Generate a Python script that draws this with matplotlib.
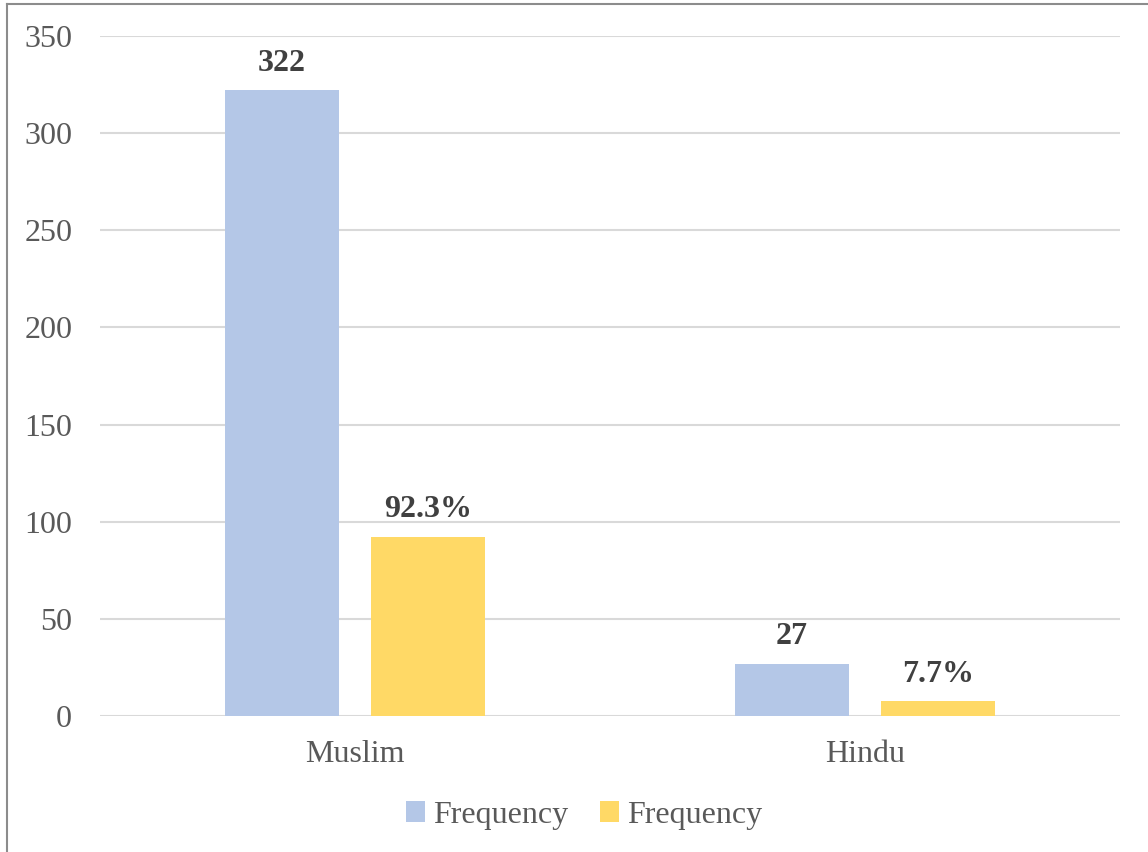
import matplotlib.pyplot as plt
from matplotlib.lines import Line2D
import numpy as np

religions = ['Muslim', 'Hindu']
frequency = [322, 27]
percent = [92.3, 7.7]
yticks = [0, 50, 100, 150, 200, 250, 300, 350]

blue = '#b4c7e7'
yellow = '#ffd966'

plt.rcParams['font.family'] = ['Liberation Serif', 'DejaVu Serif']

fig = plt.figure(figsize=(11.48, 8.52), dpi=100)
ax = fig.add_axes([0.0871, 0.1596, 0.8885, 0.7981])

x = np.arange(len(religions))
width = 0.225
offset = 0.143
b1 = ax.bar(x - offset, frequency, width, color=blue, label='Frequency', zorder=3)
b2 = ax.bar(x + offset, percent, width, color=yellow, label='Frequency', zorder=3)

for bar, v in zip(b1, frequency):
    ax.annotate(f'{v}', (bar.get_x() + bar.get_width() / 2, v),
                xytext=(0, 9), textcoords='offset points', ha='center', va='bottom',
                fontsize=23, fontweight='bold', color='#404040')
for bar, v in zip(b2, percent):
    ax.annotate(f'{v}%', (bar.get_x() + bar.get_width() / 2, v),
                xytext=(0, 9), textcoords='offset points', ha='center', va='bottom',
                fontsize=23, fontweight='bold', color='#404040')

ax.set_xlim(-0.5, 1.5)
ax.set_ylim(0, 350)
ax.set_yticks(yticks)
ax.set_xticks(x)
ax.set_xticklabels(religions)
ax.tick_params(axis='y', length=0, pad=20, labelsize=23, labelcolor='#595959')
ax.tick_params(axis='x', length=0, pad=17, labelsize=23, labelcolor='#595959')
ax.grid(axis='y', color='#d9d9d9', linewidth=1.5, zorder=0)
for s in ax.spines.values():
    s.set_visible(False)

ax.legend(loc='center', bbox_to_anchor=(0.4745, -0.146), ncol=2, frameon=False,
          fontsize=23, labelcolor='#595959', handlelength=0.6, handleheight=0.6,
          handletextpad=0.25, columnspacing=1.0)

# outer chart frame (left and top edges)
fig.add_artist(Line2D([7 / 1148, 7 / 1148], [0, 1 - 4 / 852], transform=fig.transFigure,
                      color='#8c8c8c', linewidth=1.5))
fig.add_artist(Line2D([7 / 1148, 1], [1 - 4 / 852, 1 - 4 / 852], transform=fig.transFigure,
                      color='#8c8c8c', linewidth=1.5))

fig.savefig('out.png', dpi=100)
